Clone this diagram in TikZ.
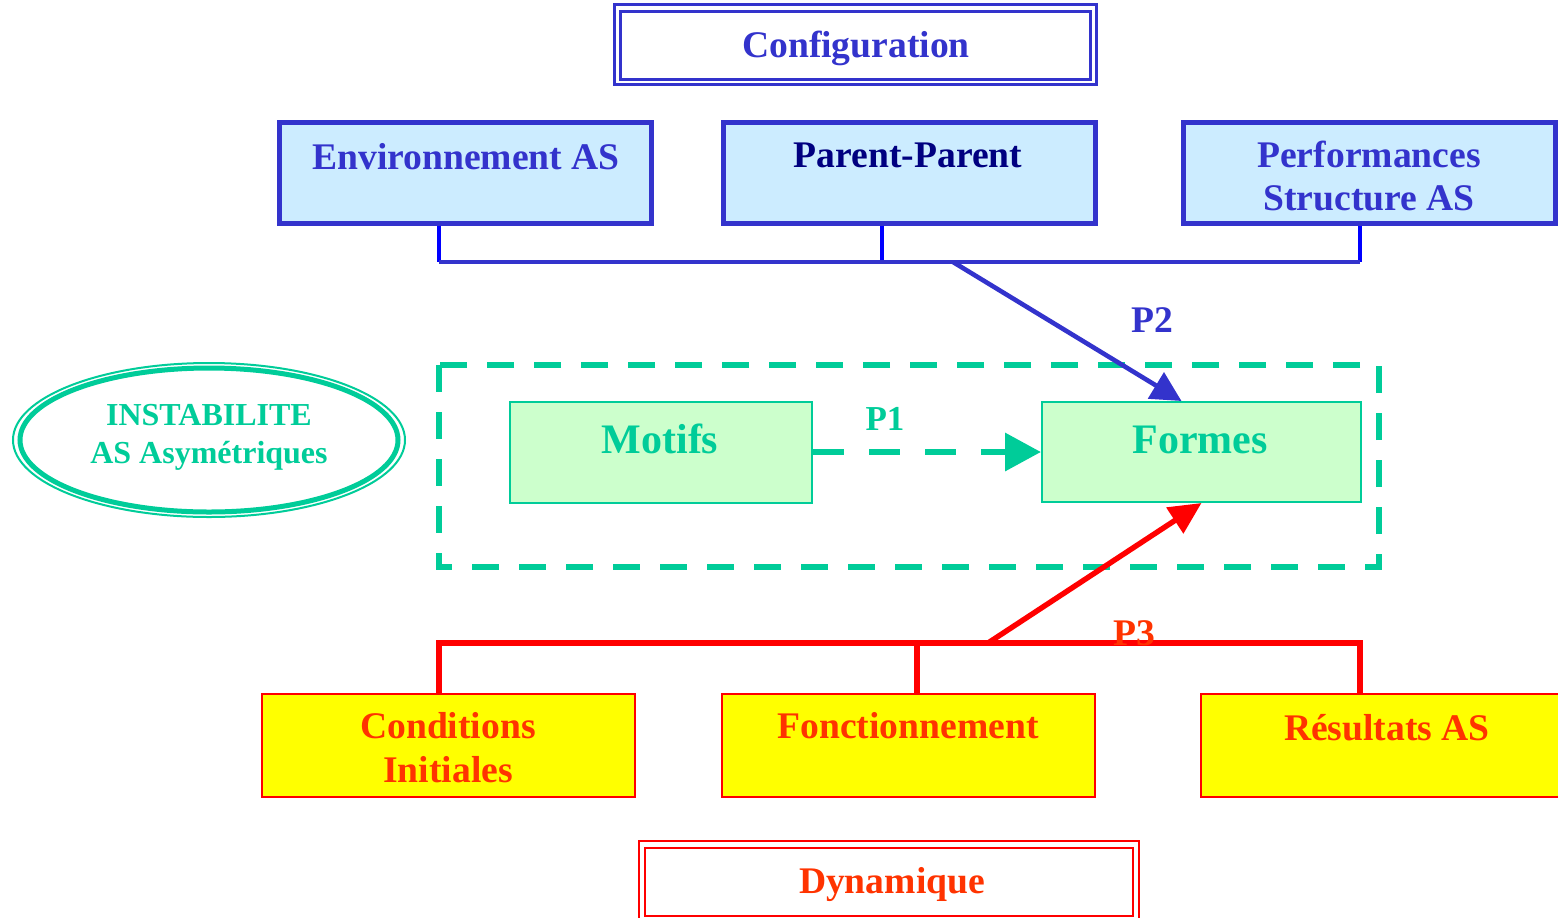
\documentclass[tikz,border=0pt]{standalone}
\usepackage{fontspec}
\setmainfont{Liberation Serif}
\usetikzlibrary{arrows.meta,shapes.geometric}
\definecolor{cfgblue}{HTML}{3333CC}
\definecolor{pureblue}{HTML}{0000FF}
\definecolor{navyink}{HTML}{000080}
\definecolor{skyfill}{HTML}{CCECFF}
\definecolor{mintline}{HTML}{00CC99}
\definecolor{mintfill}{HTML}{CCFFCC}
\definecolor{dynred}{HTML}{FF3300}
\definecolor{wirered}{HTML}{FF0000}
\definecolor{lemon}{HTML}{FFFF00}
\begin{document}
\begin{tikzpicture}[x=0.5pt,y=-0.5pt,
  lbl/.style={anchor=base, inner sep=0pt, font=\bfseries\fontsize{18.8pt}{22pt}\selectfont},
  biglbl/.style={lbl, font=\bfseries\fontsize{21pt}{25pt}\selectfont},
  smalllbl/.style={lbl, font=\bfseries\fontsize{16pt}{19pt}\selectfont},
  plbl/.style={lbl, font=\bfseries\fontsize{17.5pt}{21pt}\selectfont},
  confbox/.style={draw=cfgblue, line width=2.5pt, fill=skyfill, inner sep=0pt,
    minimum width=186pt, minimum height=50.5pt},
  greenbox/.style={draw=mintline, line width=1pt, fill=mintfill, inner sep=0pt,
    minimum height=50.5pt},
  dynbox/.style={draw=wirered, line width=1pt, fill=lemon, inner sep=0pt,
    minimum width=186.5pt, minimum height=51.5pt},
  titlebox/.style={line width=1.5pt, inner sep=0pt, minimum height=34pt},
  bluewire/.style={draw=cfgblue, line width=2.3pt},
  bluedrop/.style={draw=pureblue, line width=1.6pt},
  redwire/.style={draw=wirered, line width=2.7pt},
]
\path[use as bounding box] (0,0) rectangle (1558,917);
\clip (0,0) rectangle (1558,917);

% ---- Configuration title ----
\node[titlebox, draw=cfgblue, minimum width=235pt] (config) at (855,45) {};
\draw[cfgblue, line width=1.5pt] ([shift={(-4,-5)}]config.north west) rectangle ([shift={(5,4)}]config.south east);
\node[lbl, text=cfgblue] (configT) at (856,57) {Configuration};

% ---- Configuration boxes ----
\node[confbox] (env)  at (465.5,172.5) {};
\node[confbox] (par)  at (909,172.5) {};
\node[confbox] (perf) at (1369,172.5) {};
\node[lbl, text=cfgblue] (envT) at (466,169) {Environnement AS};
\node[lbl, text=navyink] (parT) at (908,167) {Parent-Parent};
\node[lbl, text=cfgblue] (perfT1) at (1369,167) {Performances};
\node[lbl, text=cfgblue] (perfT2) at (1369,210) {Structure AS};

% blue bus
\coordinate (bbL) at (439,262);
\coordinate (bbM) at (882,262);
\coordinate (bbR) at (1360,262);
\coordinate (bbA) at (953,262);
\path[bluedrop] (env.south -| bbL) -- (bbL);
\path[bluedrop] (par.south -| bbM) -- (bbM);
\path[bluedrop] (perf.south -| bbR) -- (bbR);
\path[bluewire] (bbL) -- (bbR);

% ---- INSTABILITE ellipse ----
\node[ellipse, draw=mintline, line width=2.5pt, minimum width=189pt, minimum height=72pt, inner sep=0pt] (inst) at (209,440) {};
\draw[mintline, line width=1pt] (inst.center) ellipse [x radius=196, y radius=77];
\node[smalllbl, text=mintline] (instT1) at (209,425) {INSTABILITE};
\node[smalllbl, text=mintline] (instT2) at (209,463) {AS Asymétriques};

% ---- dashed frame with Motifs / Formes ----
\draw[mintline, line width=3pt, dash pattern=on 13.5pt off 10pt] (439,365) rectangle (1379,567);
\node[greenbox, minimum width=151pt] (motifs) at (661,452) {};
\node[greenbox, minimum width=159.5pt, minimum height=50pt] (formes) at (1201.5,452) {};
\node[biglbl, text=mintline] (motifsT) at (660,453) {Motifs};
\node[biglbl, text=mintline] (formesT) at (1200,453) {Formes};

% P1 : Motifs -> Formes
\draw[mintline, line width=3.3pt, dash pattern=on 15.5pt off 12.5pt,
  -{Triangle[length=18pt, width=18.5pt]}] (motifs.east) -- (formes.west);
\node[plbl, text=mintline] (p1) at (885,430) {P1};

% P2 : configuration bus -> Formes
\draw[cfgblue, line width=2.3pt, -{Triangle[length=15pt, width=15pt]}]
  (bbA) -- ([xshift=-10pt]formes.north);
\node[lbl, text=cfgblue] (p2) at (1152,332) {P2};

% ---- Dynamique boxes ----
\node[dynbox] (cond) at (448.5,745.5) {};
\node[dynbox] (fonc) at (908.5,745.5) {};
\node[dynbox] (res)  at (1387.5,745.5) {};
\node[lbl, text=dynred] (condT1) at (448,738) {Conditions};
\node[lbl, text=dynred] (condT2) at (448,782) {Initiales};
\node[lbl, text=dynred] (foncT) at (908,738) {Fonctionnement};
\node[lbl, text=dynred] (resT) at (1387,740) {Résultats AS};

% red bus
\coordinate (rbL) at (439,643);
\coordinate (rbM) at (917,643);
\coordinate (rbR) at (1360,643);
\coordinate (rbA) at (988,643);
\path[redwire] (cond.north -| rbL) -- (rbL) -- (rbR) -- (res.north -| rbR);
\path[redwire] (fonc.north -| rbM) -- (rbM);

% P3 : dynamics bus -> Formes
\draw[wirered, line width=2.7pt, -{Triangle[length=16pt, width=15pt]}]
  (rbA) -- (formes.south);
\node[lbl, text=dynred] (p3) at (1134,645) {P3};

% ---- Dynamique title ----
\node[titlebox, draw=wirered, line width=1pt, minimum width=244pt] (dyn) at (889,882) {};
\draw[wirered, line width=1pt] ([shift={(-5,-6)}]dyn.north west) rectangle ([shift={(5,6)}]dyn.south east);
\node[lbl, text=dynred] (dynT) at (892,893) {Dynamique};
\end{tikzpicture}
\end{document}
